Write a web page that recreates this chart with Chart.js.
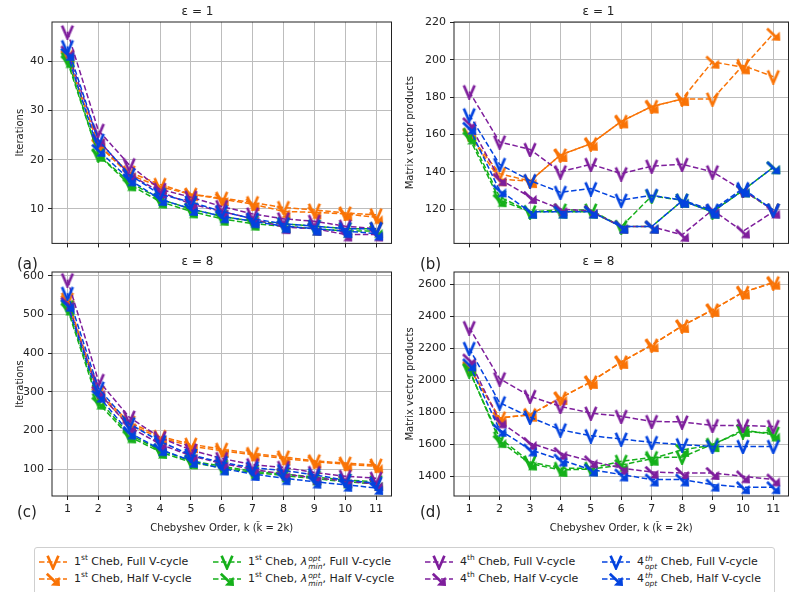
<!DOCTYPE html>
<html>
<head>
<meta charset="utf-8">
<script src="https://cdn.jsdelivr.net/npm/chart.js@4/dist/chart.umd.min.js"></script>
<style>
  body { margin: 0; background: #fff; }
  #fig { position: relative; width: 797px; height: 592px; overflow: hidden; font-family: "DejaVu Sans", sans-serif; color: #222; }
  #fig canvas.panel { position: absolute; }
  .tag { position: absolute; font-size: 15px; line-height: 15px; }
  #legend { position: absolute; left: 34px; top: 547px; width: 739px; height: 52px; border: 1px solid #cfcfcf; border-radius: 3px; background: #fff; }
  .item { position: absolute; height: 16px; font-size: 11px; line-height: 16px; white-space: nowrap; }
  .item canvas { position: absolute; left: 0; top: 0; }
  .item .txt { position: absolute; left: 36px; top: 0; }
  sup, sub { font-size: 7.5px; line-height: 0; }
  .ss { display: inline-block; vertical-align: -4px; font-size: 7.5px; line-height: 8px; font-style: italic; margin-left: 1px; }
  .ss span { display: block; }
</style>
</head>
<body>
<div id="fig">
  <canvas class="panel" id="pa" width="400" height="254" style="left:0;top:0"></canvas>
  <canvas class="panel" id="pb" width="397" height="254" style="left:400px;top:0"></canvas>
  <canvas class="panel" id="pc" width="400" height="292" style="left:0;top:250px"></canvas>
  <canvas class="panel" id="pd" width="397" height="292" style="left:400px;top:250px"></canvas>
  <div class="tag" style="left:17px;top:257px">(a)</div>
  <div class="tag" style="left:420px;top:257px">(b)</div>
  <div class="tag" style="left:17px;top:505px">(c)</div>
  <div class="tag" style="left:420px;top:505px">(d)</div>
  <div id="legend"></div>
</div>
<script>
// Chebyshev order k
const orders = [1, 2, 3, 4, 5, 6, 7, 8, 9, 10, 11];

// tick labels
const itersTicksA = [10, 20, 30, 40];
const mvpTicksB = [120, 140, 160, 180, 200, 220];
const itersTicksC = [100, 200, 300, 400, 500, 600];
const mvpTicksD = [1400, 1600, 1800, 2000, 2200, 2400, 2600];

// (a) eps = 1, iterations
const aOrangeFull = [41, 23, 17.5, 15, 13, 12.2, 11.3, 10.3, 9.8, 9.2, 8.8];
const aOrangeHalf = [41, 23, 17, 14.5, 13, 12, 11, 9.5, 9.3, 9, 8.3];
const aGreenFull  = [40.5, 21, 15.5, 12, 10, 8.5, 7.5, 7, 6.5, 6, 6];
const aGreenHalf  = [40, 21, 15, 11.5, 9.5, 8, 7, 6.5, 6, 5.5, 5.5];
const aPurpleFull = [46, 26, 19, 14, 12.4, 10.5, 9, 8, 7.5, 6.5, 6];
const aPurpleHalf = [42, 24, 17, 13.5, 11, 9.5, 8, 6.3, 6, 4.8, 4.8];
const aBlueFull   = [43, 24, 17, 13, 11.4, 9.5, 8, 7, 6.5, 6, 6];
const aBlueHalf   = [41.5, 22, 16, 12, 10, 8.5, 7.5, 6.5, 6, 5.5, 5];

// (b) eps = 1, matrix vector products
const bOrangeFull = [160, 139, 135, 149, 155, 167, 175, 179, 179, 197, 191];
const bOrangeHalf = [160, 136, 135, 149, 155, 167, 175, 179, 199, 196, 214];
const bGreenFull  = [160, 126.5, 118.6, 119.5, 119.5, 110.6, 127, 124.8, 118.6, 130, 119.5];
const bGreenHalf  = [158.3, 124.8, 118.6, 118.6, 118.6, 110.6, 110.6, 124.4, 118.6, 130, 142.4];
const bPurpleFull = [183, 156, 152, 140, 144, 139, 143, 144, 140, 130, 119.5];
const bPurpleHalf = [166, 136, 126.5, 120, 119, 110.6, 110.6, 106.2, 119.5, 108, 118.6];
const bBlueFull   = [170.6, 144, 135.3, 129, 131, 124.8, 127.4, 124.8, 119.5, 131, 119.5];
const bBlueHalf   = [163.6, 130, 118.6, 118.6, 118.6, 110.6, 110.6, 124.4, 118.6, 130, 142.4];

// (c) eps = 8, iterations
const cOrangeFull = [540, 300, 222, 185, 165, 152, 141, 132, 122, 116, 111];
const cOrangeHalf = [535, 295, 215, 182, 160, 148, 138, 128, 120, 113, 108];
const cGreenFull  = [520, 280, 190, 150, 122, 108, 95, 88, 80, 72, 68];
const cGreenHalf  = [515, 272, 185, 145, 118, 104, 92, 84, 76, 68, 62];
const cPurpleFull = [590, 330, 235, 182, 150, 128, 112, 105, 92, 82, 77];
const cPurpleHalf = [530, 300, 210, 165, 135, 115, 100, 88, 78, 70, 62];
const cBlueFull   = [555, 310, 218, 172, 137, 118, 104, 97, 86, 72, 64];
const cBlueHalf   = [525, 290, 195, 152, 122, 102, 88, 77, 68, 60, 52];

// (d) eps = 8, matrix vector products
const dOrangeFull = [2080, 1765, 1785, 1890, 1990, 2115, 2220, 2340, 2440, 2550, 2610];
const dOrangeHalf = [2080, 1765, 1785, 1890, 1990, 2115, 2220, 2340, 2440, 2550, 2610];
const dGreenFull  = [2060, 1640, 1490, 1450, 1450, 1494, 1517, 1520, 1600, 1680, 1670];
const dGreenHalf  = [2070, 1620, 1480, 1440, 1445, 1470, 1510, 1565, 1595, 1690, 1660];
const dPurpleFull = [2330, 2010, 1900, 1837, 1795, 1775, 1743, 1740, 1718, 1718, 1712];
const dPurpleHalf = [2130, 1743, 1608, 1546, 1494, 1452, 1427, 1421, 1421, 1400, 1380];
const dBlueFull   = [2200, 1860, 1770, 1691, 1654, 1633, 1612, 1598, 1587, 1587, 1587];
const dBlueHalf   = [2100, 1691, 1567, 1504, 1442, 1411, 1380, 1380, 1348, 1332, 1332];

const ORANGE = '#f97306', GREEN = '#15b01a', PURPLE = '#7e1e9c', BLUE = '#0343df';

const seriesInfo = [
    { color: ORANGE, full: true,  label: '1<sup>st</sup> Cheb, Full V-cycle' },
    { color: ORANGE, full: false, label: '1<sup>st</sup> Cheb, Half V-cycle' },
    { color: GREEN,  full: true,  label: '1<sup>st</sup> Cheb, <i>λ</i><span class="ss"><span>opt</span><span>min</span></span>, Full V-cycle' },
    { color: GREEN,  full: false, label: '1<sup>st</sup> Cheb, <i>λ</i><span class="ss"><span>opt</span><span>min</span></span>, Half V-cycle' },
    { color: PURPLE, full: true,  label: '4<sup>th</sup> Cheb, Full V-cycle' },
    { color: PURPLE, full: false, label: '4<sup>th</sup> Cheb, Half V-cycle' },
    { color: BLUE,   full: true,  label: '4<span class="ss"><span>th</span><span>opt</span></span> Cheb, Full V-cycle' },
    { color: BLUE,   full: false, label: '4<span class="ss"><span>th</span><span>opt</span></span> Cheb, Half V-cycle' }
];

function vMarker(color) {
    const c = document.createElement('canvas');
    c.width = 16; c.height = 16;
    const g = c.getContext('2d');
    g.strokeStyle = color; g.lineWidth = 2.7; g.lineJoin = 'miter';
    g.beginPath();
    g.moveTo(2.6, 1.8); g.lineTo(8, 14.2); g.lineTo(13.4, 1.8);
    g.stroke();
    return c;
}

function arrowMarker(color) {
    const c = document.createElement('canvas');
    c.width = 16; c.height = 16;
    const g = c.getContext('2d');
    g.strokeStyle = color; g.fillStyle = color; g.lineWidth = 2.7;
    g.beginPath();
    g.moveTo(1.8, 2.8); g.lineTo(11.5, 12);
    g.stroke();
    g.beginPath();
    g.moveTo(15, 15); g.lineTo(14.4, 5.8); g.lineTo(5.8, 14.4); g.closePath();
    g.fill();
    return c;
}

const markers = seriesInfo.map(s => s.full ? vMarker(s.color) : arrowMarker(s.color));

const boxPlugin = {
    id: 'box',
    afterDatasetsDraw(chart) {
        const a = chart.chartArea, ctx = chart.ctx;
        ctx.save();
        ctx.strokeStyle = '#222';
        ctx.lineWidth = 1;
        ctx.strokeRect(a.left, a.top, a.right - a.left, a.bottom - a.top);
        ctx.restore();
    }
};

function makePanel(id, o) {
    return new Chart(document.getElementById(id), {
        type: 'line',
        data: {
            datasets: o.series.map((vals, i) => ({
                data: orders.map((k, j) => ({ x: k, y: vals[j] })),
                borderColor: seriesInfo[i].color,
                backgroundColor: seriesInfo[i].color,
                borderWidth: 1.5,
                borderDash: [5.5, 2.5],
                pointStyle: markers[i],
                pointRadius: 7,
                tension: 0,
                order: 8 - i
            }))
        },
        options: {
            responsive: false,
            animation: false,
            events: [],
            layout: { padding: { left: 0, right: o.padRight, top: 0, bottom: o.xTitle ? 8 : 0 } },
            plugins: {
                legend: { display: false },
                tooltip: { enabled: false },
                title: {
                    display: true, text: o.title, color: '#222',
                    font: { family: 'DejaVu Sans', size: 12, weight: 'normal' },
                    padding: { top: 4.5, bottom: 3.1 }
                }
            },
            scales: {
                x: {
                    type: 'linear', min: 0.5, max: 11.5,
                    afterFit: s => { s.height = o.xHeight; },
                    afterBuildTicks: s => { s.ticks = orders.map(v => ({ value: v })); },
                    grid: { color: '#bdbdbd', lineWidth: 1, tickLength: 4, tickColor: '#222' },
                    border: { display: false },
                    ticks: {
                        display: !!o.xTitle, padding: 3, color: '#222',
                        font: { family: 'DejaVu Sans', size: 11 },
                        callback: v => String(v)
                    },
                    title: {
                        display: !!o.xTitle, text: o.xTitle || '', color: '#222',
                        font: { family: 'DejaVu Sans', size: 10 }, padding: { top: 0, bottom: 0 }
                    }
                },
                y: {
                    min: o.yMin, max: o.yMax,
                    afterFit: s => { s.width = o.yWidth; },
                    afterBuildTicks: s => { s.ticks = o.yTicks.map(v => ({ value: v })); },
                    grid: { color: '#bdbdbd', lineWidth: 1, tickLength: 4, tickColor: '#222' },
                    border: { display: false },
                    ticks: {
                        padding: 4, color: '#222',
                        font: { family: 'DejaVu Sans', size: 11 },
                        callback: v => String(v)
                    },
                    title: {
                        display: true, text: o.yTitle, color: '#222',
                        font: { family: 'DejaVu Sans', size: 10 }, padding: { top: o.yTitlePad, bottom: 0 }
                    }
                }
            }
        },
        plugins: [boxPlugin]
    });
}

const xLabel = 'Chebyshev Order, k (k\u0303 = 2k)';

makePanel('pa', {
    series: [aOrangeFull, aOrangeHalf, aGreenFull, aGreenHalf, aPurpleFull, aPurpleHalf, aBlueFull, aBlueHalf],
    title: 'ε = 1', yTitle: 'Iterations', yMin: 3, yMax: 48, yTicks: itersTicksA,
    yWidth: 52, yTitlePad: 14, xHeight: 7, padRight: 5
});
makePanel('pb', {
    series: [bOrangeFull, bOrangeHalf, bGreenFull, bGreenHalf, bPurpleFull, bPurpleHalf, bBlueFull, bBlueHalf],
    title: 'ε = 1', yTitle: 'Matrix vector products', yMin: 101.6, yMax: 220.3, yTicks: mvpTicksB,
    yWidth: 54, yTitlePad: 4, xHeight: 7, padRight: 0
});
makePanel('pc', {
    series: [cOrangeFull, cOrangeHalf, cGreenFull, cGreenHalf, cPurpleFull, cPurpleHalf, cBlueFull, cBlueHalf],
    title: 'ε = 8', yTitle: 'Iterations', yMin: 31, yMax: 610, yTicks: itersTicksC,
    yWidth: 52, yTitlePad: 14, xHeight: 38, padRight: 5, xTitle: xLabel
});
makePanel('pd', {
    series: [dOrangeFull, dOrangeHalf, dGreenFull, dGreenHalf, dPurpleFull, dPurpleHalf, dBlueFull, dBlueHalf],
    title: 'ε = 8', yTitle: 'Matrix vector products', yMin: 1277, yMax: 2677, yTicks: mvpTicksD,
    yWidth: 54, yTitlePad: 4, xHeight: 38, padRight: 0, xTitle: xLabel
});

// legend, 4 columns x 2 rows
const legend = document.getElementById('legend');
const colX = [3, 177, 389, 566];
const rowY = [6, 23];
seriesInfo.forEach((s, i) => {
    const item = document.createElement('div');
    item.className = 'item';
    item.style.left = colX[Math.floor(i / 2)] + 'px';
    item.style.top = rowY[i % 2] + 'px';
    const c = document.createElement('canvas');
    c.width = 30; c.height = 16;
    const g = c.getContext('2d');
    g.strokeStyle = s.color; g.lineWidth = 1.5; g.setLineDash([5.5, 2.5]);
    g.beginPath(); g.moveTo(1, 8); g.lineTo(29, 8); g.stroke();
    g.drawImage(markers[i], 15 - 8, 8 - 8);
    item.appendChild(c);
    const t = document.createElement('span');
    t.className = 'txt';
    t.innerHTML = s.label;
    item.appendChild(t);
    legend.appendChild(item);
});
</script>
</body>
</html>
